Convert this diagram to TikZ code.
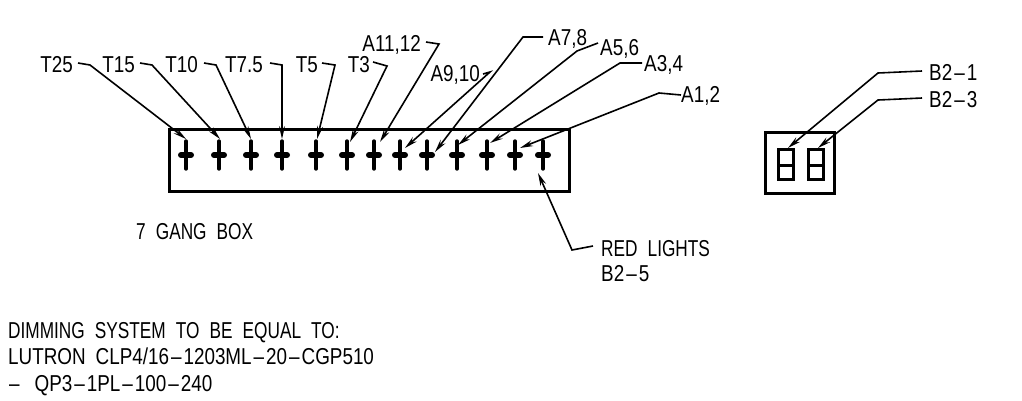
\documentclass[tikz,border=0pt]{standalone}
\usepackage{fontspec}
\setmainfont[FakeStretch=0.82,WordSpace=1.9]{Liberation Sans}
\newfontfamily\capsfont[FakeStretch=0.75,WordSpace=2.1]{Liberation Sans}
\newcommand{\dsh}{\kern2pt--\kern2pt}
\usetikzlibrary{arrows.meta}
\tikzset{
  label/.style={inner sep=0pt,text height=16pt,text depth=0pt,font=\fontsize{23}{23}\selectfont},
  capslabel/.style={label,font=\fontsize{23}{23}\selectfont\capsfont},
  leader/.style={line width=1.6pt,{Stealth[length=13pt,width=6pt]}-},
  boxline/.style={line width=3pt},
  crossline/.style={line width=3.4pt,line cap=round},
  crossbar/.style={line width=6pt,line cap=round}
}
\begin{document}
\begin{tikzpicture}[x=1pt,y=-1pt]
  \useasboundingbox (0,0) rectangle (1022,400);
  \draw[boxline] (169,129) rectangle (569,191);
  \draw[boxline] (765,132) rectangle (834,193);
  \draw[boxline] (778,149) rectangle (793,179) (778,165) -- (793,165);
  \draw[boxline] (808,149) rectangle (823,179) (808,165) -- (823,165);
  \begin{scope}[crossline]
    \draw (186,141) -- (186,169); \draw[crossbar] (181,155) -- (191,155);
    \draw (219,141) -- (219,169); \draw[crossbar] (214,155) -- (224,155);
    \draw (251,141) -- (251,169); \draw[crossbar] (246,155) -- (256,155);
    \draw (282,141) -- (282,169); \draw[crossbar] (277,155) -- (287,155);
    \draw (316,141) -- (316,169); \draw[crossbar] (311,155) -- (321,155);
    \draw (347,141) -- (347,169); \draw[crossbar] (342,155) -- (352,155);
    \draw (374,141) -- (374,169); \draw[crossbar] (369,155) -- (379,155);
    \draw (400,141) -- (400,169); \draw[crossbar] (395,155) -- (405,155);
    \draw (427,141) -- (427,169); \draw[crossbar] (422,155) -- (432,155);
    \draw (457,141) -- (457,169); \draw[crossbar] (452,155) -- (462,155);
    \draw (487,141) -- (487,169); \draw[crossbar] (482,155) -- (492,155);
    \draw (515,141) -- (515,169); \draw[crossbar] (510,155) -- (520,155);
    \draw (543,141) -- (543,169); \draw[crossbar] (538,155) -- (548,155);
  \end{scope}
  \draw
    (73,64) node[label,anchor=east] (t25){T25}
    (135,64) node[label,anchor=east] (t15){T15}
    (198,64) node[label,anchor=east] (t10){T10}
    (263,64) node[label,anchor=east] (t75){T7.5}
    (318,64) node[label,anchor=east] (t5){T5}
    (370,64) node[label,anchor=east] (t3){T3}
    (421,43) node[label,anchor=east] (a1112){A11,12}
    (480,73) node[label,anchor=east] (a910){A9,10}
    (548,37) node[label,anchor=west] (a78){A7,8}
    (600,47) node[label,anchor=west] (a56){A5,6}
    (644,63) node[label,anchor=west] (a34){A3,4}
    (681,94) node[label,anchor=west] (a12){A1,2}
    (929,72) node[label,anchor=west] (b21){B2\dsh 1}
    (929,99) node[label,anchor=west] (b23){B2\dsh 3}
    (601,248) node[capslabel,anchor=west] (red){RED LIGHTS}
    (601,273) node[label,anchor=west] (b25){B2\dsh 5}
    (136,231) node[capslabel,anchor=west] (gang){7 GANG BOX}
    (8,330) node[capslabel,anchor=west] (dim){DIMMING SYSTEM TO BE EQUAL TO:}
    (8,356) node[label,anchor=west] (lut){LUTRON CLP4/16\dsh 1203ML\dsh 20\dsh CGP510}
    (7,383) node[label,anchor=west] (qp){\dsh\kern3pt\ QP3\dsh 1PL\dsh 100\dsh 240};
  \begin{scope}[leader]
    \draw (186,139) coordinate (p1) -- (90,65) -- ([xshift=5pt,yshift=1pt]t25.east);
    \draw (220,139) coordinate (p2) -- (152,65) -- ([xshift=5pt,yshift=1pt]t15.east);
    \draw (251,139) coordinate (p3) -- (216,65) -- ([xshift=6pt,yshift=1pt]t10.east);
    \draw (282,139) coordinate (p4) -- (282,65) -- ([xshift=7pt,yshift=1pt]t75.east);
    \draw (317,139) coordinate (p5) -- (335,65) -- ([xshift=4pt,yshift=1pt]t5.east);
    \draw (350,142) coordinate (p6) -- (387,66) -- ([xshift=3pt,yshift=2pt]t3.east);
    \draw (380,142) coordinate (p7) -- (439,44) -- ([xshift=5pt,yshift=1pt]a1112.east);
    \draw (405,148) coordinate (p8) -- (490,72) -- ([xshift=3pt,yshift=-1pt]a910.east);
    \draw (435,152) coordinate (p9) -- (523,37) -- ([xshift=-5pt]a78.west);
    \draw (458,145) coordinate (p10) -- (577,51) -- ([xshift=-2pt,yshift=4pt]a56.west);
    \draw (490,143) coordinate (p11) -- (620,63) -- ([xshift=-2pt]a34.west);
    \draw (520,148) coordinate (p12) -- (659,93) -- ([xshift=0pt,yshift=-1pt]a12.west);
    \draw (788,148) coordinate (p13) -- (878,73) -- ([xshift=-7pt,yshift=1pt]b21.west);
    \draw (818,148) coordinate (p14) -- (878,100) -- ([xshift=-7pt,yshift=1pt]b23.west);
    \draw (538,173) coordinate (p15) -- (572,250) -- ([xshift=-8pt,yshift=2pt]red.west);
  \end{scope}
\end{tikzpicture}
\end{document}
